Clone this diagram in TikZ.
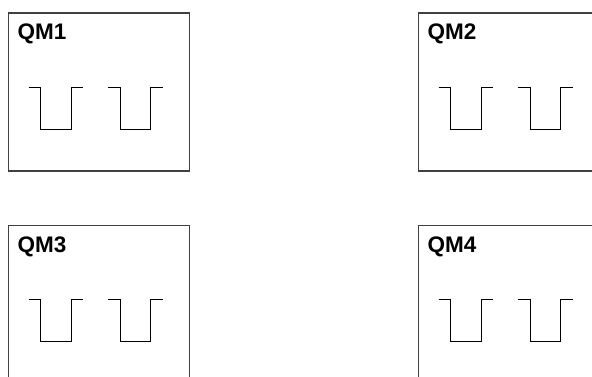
\documentclass[tikz,border=0pt]{standalone}
\usepackage{fontspec}
\setmainfont{Liberation Sans}
\begin{document}
\begin{tikzpicture}[x=1pt,y=-1pt,
  qmbox/.style={draw=black!75,line width=1.1pt,rectangle,inner sep=0pt,anchor=north west},
  qmlabel/.style={anchor=base west,inner sep=0pt,font=\fontsize{22.5}{26}\selectfont\bfseries},
  wave/.style={draw=black,line width=0.9pt,line join=miter}]
\useasboundingbox (0,0) rectangle (592,377);
\clip (0,0) rectangle (592,377);
\foreach \n/\bx/\by in {1/7.5/12.5, 2/417.5/12.5, 3/7.5/224.5, 4/417.5/224.5}{
  \node[qmbox,minimum width=181pt,minimum height=158pt] (box\n) at (\bx,\by) {};
  \node[qmlabel] (lab\n) at ([xshift=10pt,yshift=-27.5pt]box\n.north west) {QM\n};
  \foreach \k/\dx in {a/21, b/100.3}{
    \coordinate (w\n\k) at ([xshift=\dx pt,yshift=-75pt]box\n.north west);
    \draw[wave] (w\n\k) -- ++(12.4,0) -- ++(0,42) -- ++(30.2,0) -- ++(0,-42) -- ++(12.2,0);
  }
}
\end{tikzpicture}
\end{document}
